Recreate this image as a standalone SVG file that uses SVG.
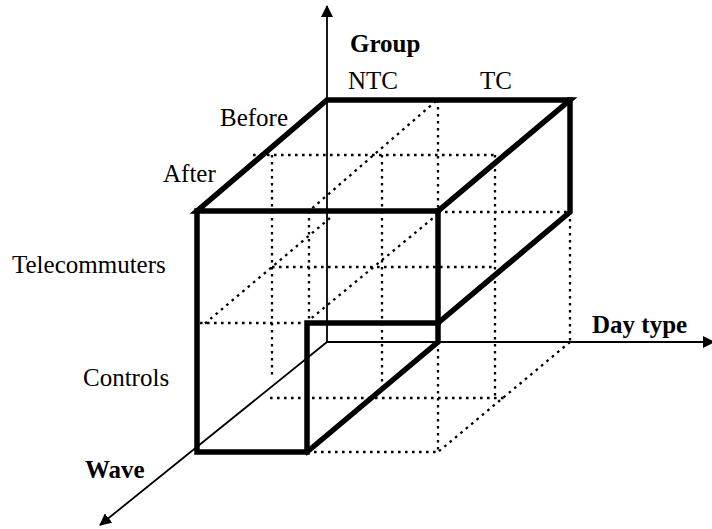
<svg xmlns="http://www.w3.org/2000/svg" width="712" height="529" viewBox="0 0 712 529">
<style>
.bold{fill:none;stroke:#000;stroke-width:5.5;stroke-linecap:square;stroke-linejoin:miter}
.axis{fill:none;stroke:#000;stroke-width:1.8}
.dot{fill:none;stroke:#000;stroke-width:2.3;stroke-dasharray:2.6 4.4}
.lbl{font-family:"Liberation Serif","Times New Roman",serif;font-size:25px;fill:#000}
.b{font-weight:bold}
</style>
<defs>
<marker id="arr" viewBox="0 0 12 12" refX="11" refY="6" markerWidth="12" markerHeight="12" markerUnits="userSpaceOnUse" orient="auto">
<path d="M0,0 L12,6 L0,12 Z" fill="#000"/>
</marker>
</defs>
<rect width="712" height="529" fill="#fff"/>
<g id="grid">
<line class="dot" x1="253" y1="155" x2="497" y2="155"/>
<line class="dot" x1="436" y1="101" x2="309" y2="211"/>
<line class="dot" x1="438" y1="100" x2="438" y2="211"/>
<line class="dot" x1="272" y1="155" x2="272" y2="378"/>
<line class="dot" x1="382" y1="155" x2="382" y2="387"/>
<line class="dot" x1="495" y1="155" x2="495" y2="398"/>
<line class="dot" x1="272" y1="267" x2="495" y2="267"/>
<line class="dot" x1="270" y1="398" x2="505" y2="398"/>
<line class="dot" x1="438" y1="212" x2="570" y2="212"/>
<line class="dot" x1="570" y1="212" x2="570" y2="342"/>
<line class="dot" x1="570" y1="342" x2="438" y2="452"/>
<line class="dot" x1="438" y1="342" x2="438" y2="452"/>
<line class="dot" x1="307" y1="452" x2="438" y2="452"/>
<line class="dot" x1="330" y1="218" x2="202" y2="326"/>
<line class="dot" x1="438" y1="214" x2="308" y2="321"/>
<line class="dot" x1="309" y1="211" x2="309" y2="323"/>
<line class="dot" x1="200" y1="323" x2="307" y2="323"/>
</g>
<g id="connectors">
<line id="axis-group" class="axis" x1="327" y1="342" x2="327" y2="6" marker-end="url(#arr)"/>
<line id="axis-daytype" class="axis" x1="327" y1="342" x2="714" y2="342" marker-end="url(#arr)"/>
<line id="axis-wave" class="axis" x1="327" y1="342" x2="100" y2="525" marker-end="url(#arr)"/>
</g>
<g id="box">
<path class="bold" d="M327,100 L570,100 L438,211 L197,211 Z"/>
<path class="bold" d="M197,211 L197,452 L307,452 L307,323 L438,323"/>
<path class="bold" d="M438,211 L438,342 L307,452"/>
<path class="bold" d="M570,100 L570,212 L438,323"/>
</g>
<g id="labels">
<text class="lbl b" x="350" y="52">Group</text>
<text class="lbl" x="348" y="89">NTC</text>
<text class="lbl" x="480" y="89">TC</text>
<text class="lbl" x="220" y="126">Before</text>
<text class="lbl" x="163" y="182">After</text>
<text class="lbl" x="12" y="273">Telecommuters</text>
<text class="lbl" x="83" y="386">Controls</text>
<text class="lbl b" x="592" y="333">Day type</text>
<text class="lbl b" x="85" y="478">Wave</text>
</g>
</svg>
